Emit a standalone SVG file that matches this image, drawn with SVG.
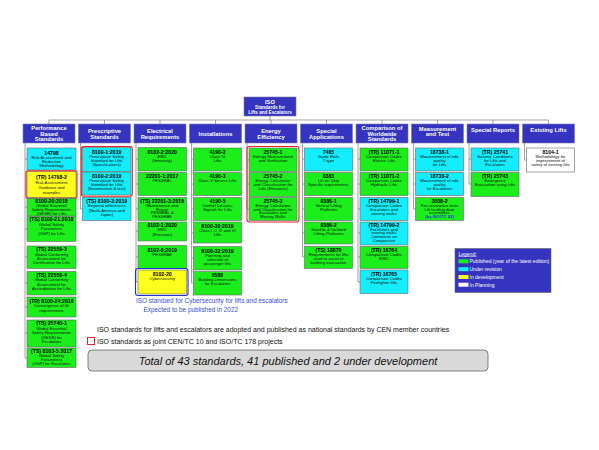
<svg xmlns="http://www.w3.org/2000/svg" width="599" height="450" viewBox="0 0 599 450">
<style>
text{font-family:"Liberation Sans",Arial,sans-serif;text-anchor:middle}
.hd{fill:#3434c0;stroke:#7a7aa8;stroke-width:0.6}
.hw{fill:#fff;font-weight:bold;font-size:5.8px}
.bx{stroke:#666;stroke-width:0.6}
.g{fill:#1cee1c}.c{fill:#14eefc}.y{fill:#ffff1e}.w{fill:#fff}
.t{font-weight:bold;font-size:5.2px;fill:#000}
.b{font-size:4.2px;fill:#111}
.red{fill:none;stroke:#e8202a;stroke-width:1.1}
.ln{stroke:#666;stroke-width:0.6;fill:none}
.lg{fill:#fff;font-size:5px;text-anchor:start}
</style>
<g id="connectors" class="ln">
<path d="M270,116V120M49,120H548.5M49,120V124M104.5,120V124M160,120V124M215.5,120V124M271,120V124M326.5,120V124M382,120V124M437.5,120V124M493,120V124M548.5,120V124"/>
<path d="M25,143V358M25,159H27M25,184H27M25,207H27M25,229H27M25,257H27M25,283H27M25,307H27M25,333H27M25,358H27"/>
<path d="M80.5,143V209M80.5,159H82.5M80.5,183H82.5M80.5,209H82.5"/>
<path d="M136,143V282M136,159H138M136,184H138M136,209H138M136,231H138M136,257H138M136,282H138"/>
<path d="M191.5,143V283M191.5,159H193.5M191.5,184H193.5M191.5,209H193.5M191.5,233H193.5M191.5,258H193.5M191.5,283H193.5"/>
<path d="M247,143V209M247,160H249M247,184H249M247,209H249"/>
<path d="M302.5,143V257M302.5,159H304.5M302.5,184H304.5M302.5,209H304.5M302.5,233H304.5M302.5,257H304.5"/>
<path d="M358,143V282M358,159H360M358,184H360M358,209H360M358,233H360M358,257H360M358,282H360"/>
<path d="M413.5,143V209M413.5,159H415.5M413.5,184H415.5M413.5,209H415.5"/>
<path d="M469,143V184M469,159H471M469,184H471"/>
<path d="M524.5,143V160M524.5,160H526.5"/>
</g>
<g id="iso">
<rect class="hd" x="244" y="97" width="52" height="19"/>
<text class="hw" x="270" y="103.5" font-size="6.5">ISO</text>
<text class="hw" x="270" y="109" style="font-size:4.6px">Standards for</text>
<text class="hw" x="270" y="114" style="font-size:4.6px">Lifts and Escalators</text>
</g>
<g id="headers">
<g id="h1"><rect class="hd" x="23" y="124" width="52" height="19"/><text class="hw" x="49" y="130.3">Performance</text><text class="hw" x="49" y="135.8">Based</text><text class="hw" x="49" y="141.3">Standards</text></g>
<g id="h2"><rect class="hd" x="78.5" y="124" width="52" height="19"/><text class="hw" x="104.5" y="133.3">Prescriptive</text><text class="hw" x="104.5" y="138.8">Standards</text></g>
<g id="h3"><rect class="hd" x="134" y="124" width="52" height="19"/><text class="hw" x="160" y="133.3">Electrical</text><text class="hw" x="160" y="138.8">Requirements</text></g>
<g id="h4"><rect class="hd" x="189.5" y="124" width="52" height="19"/><text class="hw" x="215.5" y="135.5">Installations</text></g>
<g id="h5"><rect class="hd" x="245" y="124" width="52" height="19"/><text class="hw" x="271" y="133.3">Energy</text><text class="hw" x="271" y="138.8">Efficiency</text></g>
<g id="h6"><rect class="hd" x="300.5" y="124" width="52" height="19"/><text class="hw" x="326.5" y="133.3">Special</text><text class="hw" x="326.5" y="138.8">Applications</text></g>
<g id="h7"><rect class="hd" x="356" y="124" width="52" height="19"/><text class="hw" x="382" y="130.3">Comparison of</text><text class="hw" x="382" y="135.8">Worldwide</text><text class="hw" x="382" y="141.3">Standards</text></g>
<g id="h8"><rect class="hd" x="411.5" y="124" width="52" height="19"/><text class="hw" x="437.5" y="130.8">Measurement</text><text class="hw" x="437.5" y="136.3">and Test</text></g>
<g id="h9"><rect class="hd" x="467" y="124" width="52" height="19"/><text class="hw" x="493" y="131.8">Special Reports</text></g>
<g id="h10"><rect class="hd" x="522.5" y="124" width="52" height="19"/><text class="hw" x="548.5" y="131.8">Existing Lifts</text></g>
</g>
<g id="col1">
<g id="n14798"><rect class="bx c" x="27" y="148" width="49" height="22"/><text class="t" x="51.5" y="154.5">14798</text><text class="b" x="51.5" y="158.7">Risk Assessment and</text><text class="b" x="51.5" y="163">Reduction</text><text class="b" x="51.5" y="167.3">Methodology</text></g>
<g id="n14798-2"><rect class="bx y" x="27" y="171.5" width="49" height="26"/><rect class="red" x="26" y="170.8" width="51" height="27.4" rx="2"/><text class="t" x="51.5" y="178.5">(TR) 14798-2</text><text class="b" x="51.5" y="183.5">Risk Assessment</text><text class="b" x="51.5" y="188.5">Guidance and</text><text class="b" x="51.5" y="193.5">examples</text></g>
<g id="n8100-20"><rect class="bx g" x="27" y="198.5" width="49" height="17.5"/><text class="t" x="51.5" y="203">8100-20:2018</text><text class="b" x="51.5" y="206.8">Global Essential</text><text class="b" x="51.5" y="210.7">Safety Requirements</text><text class="b" x="51.5" y="214.6">(GESR) for Lifts</text></g>
<g id="n8100-21"><rect class="bx g" x="27" y="216.5" width="49" height="25"/><text class="t" x="51.5" y="221.3">(TS) 8100-21:2018</text><text class="b" x="51.5" y="225.7">Global Safety</text><text class="b" x="51.5" y="230">Parameters</text><text class="b" x="51.5" y="234.5">(GSP) for Lifts</text></g>
<g id="n22559-3"><rect class="bx g" x="27" y="246" width="49" height="22.5"/><text class="t" x="51.5" y="251">(TS) 22559-3</text><text class="b" x="51.5" y="255.5">Global Conformity</text><text class="b" x="51.5" y="259.8">Assessment for</text><text class="b" x="51.5" y="264.3">Certification for Lifts</text></g>
<g id="n22559-4"><rect class="bx g" x="27" y="271.5" width="49" height="23.5"/><text class="t" x="51.5" y="276.8">(TS) 22559-4</text><text class="b" x="51.5" y="281.3">Global Conformity</text><text class="b" x="51.5" y="285.6">Assessment for</text><text class="b" x="51.5" y="290">Accreditation for Lifts</text></g>
<g id="n8100-24"><rect class="bx g" x="27" y="297" width="49" height="20"/><text class="t" x="51.5" y="302.6">(TR) 8100-24:2016</text><text class="b" x="51.5" y="307.3">Convergence of lift</text><text class="b" x="51.5" y="311.5">requirements</text></g>
<g id="n25740-1"><rect class="bx g" x="27" y="320" width="49" height="27"/><text class="t" x="51.5" y="325">(TS) 25740-1</text><text class="b" x="51.5" y="329.8">Global Essential</text><text class="b" x="51.5" y="334.3">Safety Requirements</text><text class="b" x="51.5" y="338.8">(GESR) for</text><text class="b" x="51.5" y="343.3">Escalators</text></g>
<g id="n8103-5"><rect class="bx g" x="27" y="348" width="49" height="19.5"/><text class="t" x="51.5" y="352.6">(TS) 8103-5:2017</text><text class="b" x="51.5" y="356.6">Global Safety</text><text class="b" x="51.5" y="360.6">Parameters</text><text class="b" x="51.5" y="364.6">(GSP) for Escalators</text></g>
</g>
<g id="col2">
<g id="n8100-1"><rect class="bx c" x="82.5" y="147.5" width="48.5" height="24"/><text class="t" x="106.7" y="154">8100-1:2019</text><text class="b" x="106.7" y="158.3">Prescriptive Safety</text><text class="b" x="106.7" y="162.3">Standard for Lifts</text><text class="b" x="106.7" y="166.3">(Specifications)</text></g>
<g id="n8100-2"><rect class="bx c" x="82.5" y="172" width="48.5" height="23"/><text class="t" x="106.7" y="177.5">8100-2:2019</text><text class="b" x="106.7" y="181.6">Prescriptive Safety</text><text class="b" x="106.7" y="185.6">Standard for Lifts</text><text class="b" x="106.7" y="190">(Examination &amp; test)</text></g>
<rect class="red" x="81.3" y="146.5" width="51" height="49.7" rx="2.5"/>
<g id="n8100-3"><rect class="bx c" x="82.5" y="197.5" width="48.5" height="23"/><text class="t" x="106.7" y="202.6">(TS) 8100-3:2019</text><text class="b" x="106.7" y="207.2">Regional differences</text><text class="b" x="106.7" y="211.5">(North America and</text><text class="b" x="106.7" y="215.6">Japan)</text></g>
</g>
<g id="col3">
<g id="n8102-2"><rect class="bx g" x="138" y="147.5" width="48.5" height="23.5"/><text class="t" x="162.2" y="154">8102-2:2020</text><text class="b" x="162.2" y="158.3">EMC</text><text class="b" x="162.2" y="162.3">(Immunity)</text></g>
<g id="n22201-1"><rect class="bx g" x="138" y="172.5" width="48.5" height="23"/><text class="t" x="162.2" y="177.5">22201-1:2017</text><text class="b" x="162.2" y="181.6">PESSRAL</text></g>
<g id="n22201-3"><rect class="bx g" x="138" y="197.5" width="48.5" height="23"/><text class="t" x="162.2" y="202.5">(TS) 22201-3:2016</text><text class="b" x="162.2" y="206.5">Maintenance and</text><text class="b" x="162.2" y="210.5">Repair</text><text class="b" x="162.2" y="214.4">PESSRAL &amp;</text><text class="b" x="162.2" y="218.3">PESSRAE</text></g>
<g id="n8102-1"><rect class="bx g" x="138" y="222" width="48.5" height="19"/><text class="t" x="162.2" y="227.3">8102-1:2020</text><text class="b" x="162.2" y="231.3">EMC</text><text class="b" x="162.2" y="235.5">(Emission)</text></g>
<g id="n8102-6"><rect class="bx g" x="138" y="245.5" width="48.5" height="23"/><text class="t" x="162.2" y="251.5">8102-6:2019</text><text class="b" x="162.2" y="255.6">PESSRAE</text></g>
<g id="n8102-20"><rect class="bx y" x="138" y="270" width="48.5" height="24"/><rect x="135.5" y="268.5" width="52.5" height="27" rx="2.5" fill="none" stroke="#2233cc" stroke-width="1.1"/><text class="t" x="162.2" y="276">8102-20</text><text class="b" x="162.2" y="280">Cybersecurity</text></g>
<text x="136" y="303" style="font-size:6.4px;fill:#3a4fd0;text-anchor:start">ISO standard for Cybersecurity for lifts and escalators</text>
<text x="143.5" y="312" style="font-size:6.4px;fill:#3a4fd0;text-anchor:start">Expected to be published  in 2022</text>
</g>
<g id="col4">
<g id="n4190-2"><rect class="bx g" x="193.5" y="148" width="48" height="23"/><text class="t" x="217.5" y="154">4190-2</text><text class="b" x="217.5" y="158.3">Class IV</text><text class="b" x="217.5" y="162.3">Lifts</text></g>
<g id="n4190-3"><rect class="bx g" x="193.5" y="172.5" width="48" height="23"/><text class="t" x="217.5" y="177.5">4190-3</text><text class="b" x="217.5" y="181.6">Class V Service Lifts</text></g>
<g id="n4190-5"><rect class="bx g" x="193.5" y="197.5" width="48" height="23"/><text class="t" x="217.5" y="203">4190-5</text><text class="b" x="217.5" y="207.3">Control Devices,</text><text class="b" x="217.5" y="211.3">Signals for Lifts</text></g>
<g id="n8100-30"><rect class="bx g" x="193.5" y="222" width="48" height="21"/><text class="t" x="217.5" y="227.6">8100-30:2019</text><text class="b" x="217.5" y="232.2">Class I, II, III and VI</text><text class="b" x="217.5" y="236.4">Lifts</text></g>
<g id="n8100-32"><rect class="bx g" x="193.5" y="246.5" width="48" height="23.5"/><text class="t" x="217.5" y="252.5">8100-32:2019</text><text class="b" x="217.5" y="256.9">Planning and</text><text class="b" x="217.5" y="260.8">selection of</text><text class="b" x="217.5" y="264.8">passenger lifts</text></g>
<g id="n9589"><rect class="bx g" x="193.5" y="271.5" width="48" height="23.5"/><text class="t" x="217.5" y="276.8">9589</text><text class="b" x="217.5" y="280.8">Building Dimensions</text><text class="b" x="217.5" y="285">for Escalators</text></g>
</g>
<g id="col5">
<g id="n25745-1"><rect class="bx g" x="249" y="148" width="48" height="23.5"/><text class="t" x="273" y="154">25745-1</text><text class="b" x="273" y="158.3">Energy Measurement</text><text class="b" x="273" y="162.3">and Verification</text></g>
<g id="n25745-2"><rect class="bx g" x="249" y="172.5" width="48" height="24"/><text class="t" x="273" y="177.6">25745-2</text><text class="b" x="273" y="181.6">Energy Calculation</text><text class="b" x="273" y="185.6">and Classification for</text><text class="b" x="273" y="189.6">Lifts (Elevators)</text></g>
<g id="n25745-3"><rect class="bx g" x="249" y="197.5" width="48" height="23"/><text class="t" x="273" y="202.5">25745-3</text><text class="b" x="273" y="206.5">Energy Calculation</text><text class="b" x="273" y="210.5">and Classification for</text><text class="b" x="273" y="214.4">Escalators and</text><text class="b" x="273" y="218.3">Moving Walks</text></g>
<rect class="red" x="247" y="146.5" width="52" height="75.5" rx="2.5"/>
</g>
<g id="col6">
<g id="n7465"><rect class="bx c" x="304.5" y="148" width="48" height="23"/><text class="t" x="328.5" y="154">7465</text><text class="b" x="328.5" y="158.3">Guide Rails</text><text class="b" x="328.5" y="162.3">T-type</text></g>
<g id="n8383"><rect class="bx g" x="304.5" y="172.5" width="48" height="23"/><text class="t" x="328.5" y="177.5">8383</text><text class="b" x="328.5" y="181.6">Lift on Ship</text><text class="b" x="328.5" y="185.6">Specific requirements</text></g>
<g id="n9386-1"><rect class="bx g" x="304.5" y="197.5" width="48" height="23"/><text class="t" x="328.5" y="202.6">9386-1</text><text class="b" x="328.5" y="206.6">Vertical Lifting</text><text class="b" x="328.5" y="210.6">Platforms</text></g>
<g id="n9386-2"><rect class="bx g" x="304.5" y="222" width="48" height="22"/><text class="t" x="328.5" y="227">9386-2</text><text class="b" x="328.5" y="231">Stairlifts &amp; Inclined</text><text class="b" x="328.5" y="235">Lifting Platforms</text></g>
<g id="n18870"><rect class="bx g" x="304.5" y="246.5" width="48" height="22"/><text class="t" x="328.5" y="251.6">(TS) 18870</text><text class="b" x="328.5" y="255.8">Requirements for lifts</text><text class="b" x="328.5" y="259.8">used to assist in</text><text class="b" x="328.5" y="263.8">building evacuation</text></g>
</g>
<g id="col7">
<g id="n11071-1"><rect class="bx g" x="360" y="148" width="48" height="23"/><text class="t" x="384" y="154">(TR) 11071-1</text><text class="b" x="384" y="158.3">Comparison Codes</text><text class="b" x="384" y="162.3">Electric Lifts</text></g>
<g id="n11071-2"><rect class="bx g" x="360" y="172.5" width="48" height="23"/><text class="t" x="384" y="177.5">(TR) 11071-2</text><text class="b" x="384" y="181.6">Comparison Codes</text><text class="b" x="384" y="185.6">Hydraulic Lifts</text></g>
<g id="n14799-1"><rect class="bx c" x="360" y="197.5" width="48" height="23"/><text class="t" x="384" y="202.5">(TR) 14799-1</text><text class="b" x="384" y="206.6">Comparison Codes</text><text class="b" x="384" y="210.6">Escalators and</text><text class="b" x="384" y="214.6">moving walks</text></g>
<g id="n14799-2"><rect class="bx c" x="360" y="222" width="48" height="23"/><text class="t" x="384" y="226.6">(TR) 14799-2</text><text class="b" x="384" y="230.6">Escalators and</text><text class="b" x="384" y="234.4">moving walks</text><text class="b" x="384" y="238.2">Comments on</text><text class="b" x="384" y="242">Comparison</text></g>
<g id="n16764"><rect class="bx g" x="360" y="246.5" width="48" height="22"/><text class="t" x="384" y="252">(TR) 16764</text><text class="b" x="384" y="256.3">Comparison Codes</text><text class="b" x="384" y="260.3">EMC</text></g>
<g id="n16765"><rect class="bx c" x="360" y="270" width="48" height="23.5"/><text class="t" x="384" y="275.5">(TR) 16765</text><text class="b" x="384" y="279.8">Comparison Codes</text><text class="b" x="384" y="283.8">Firefighter lifts</text></g>
</g>
<g id="col8">
<g id="n18738-1"><rect class="bx c" x="415.5" y="148" width="48" height="23"/><text class="t" x="439.5" y="154">18738-1</text><text class="b" x="439.5" y="158.3">Measurement of ride</text><text class="b" x="439.5" y="162.3">quality</text><text class="b" x="439.5" y="166.3">for Lifts</text></g>
<g id="n18738-2"><rect class="bx c" x="415.5" y="172.5" width="48" height="23"/><text class="t" x="439.5" y="177.5">18738-2</text><text class="b" x="439.5" y="182">Measurement of ride</text><text class="b" x="439.5" y="186">quality</text><text class="b" x="439.5" y="190">for Escalators</text></g>
<g id="n3008-2"><rect class="bx g" x="415.5" y="197.5" width="48" height="23"/><text class="t" x="439.5" y="202.5">3008-2</text><text class="b" x="439.5" y="206.5">Fire-resistance tests</text><text class="b" x="439.5" y="210.5">Lift landing door</text><text class="b" x="439.5" y="214.4">assemblies</text><text class="b" x="439.5" y="218.4" style="fill:#2233cc;font-weight:bold">(by ISO/TC 92)</text></g>
</g>
<g id="col9">
<g id="n25741"><rect class="bx c" x="471" y="148" width="48" height="23"/><text class="t" x="495" y="154">(TR) 25741</text><text class="b" x="495" y="158.3">Seismic Conditions</text><text class="b" x="495" y="162.3">for Lifts and</text><text class="b" x="495" y="166.3">Escalators</text></g>
<g id="n25743"><rect class="bx g" x="471" y="172.5" width="48" height="24"/><text class="t" x="495" y="177.5">(TR) 25743</text><text class="b" x="495" y="181.6">Emergency</text><text class="b" x="495" y="185.6">Evacuation using Lifts</text></g>
</g>
<g id="col10">
<g id="n8104-1"><rect class="bx w" x="526.5" y="148" width="48" height="24"/><text class="t" x="550.5" y="154">8104-1</text><text class="b" x="550.5" y="158.3">Methodology for</text><text class="b" x="550.5" y="162.3">improvement of</text><text class="b" x="550.5" y="166.3">safety of existing lifts</text></g>
</g>
<g id="legend">
<rect x="455" y="248.5" width="96" height="44" fill="#3434c0" stroke="#666" stroke-width="0.6"/>
<text class="lg" x="458.5" y="255.5" text-decoration="underline">Legend:</text>
<rect x="458.5" y="259.3" width="10" height="4" fill="#1cee1c"/><text class="lg" x="469.5" y="263.3">Published (year of the latest edition)</text>
<rect x="458.5" y="267.2" width="10" height="4" fill="#14eefc"/><text class="lg" x="469.5" y="271.2">Under revision</text>
<rect x="458.5" y="275" width="10" height="4" fill="#ffff1e"/><text class="lg" x="469.5" y="279">In development</text>
<rect x="458.5" y="282.7" width="10" height="4" fill="#fff"/><text class="lg" x="469.5" y="286.7">In Planning</text>
</g>
<g id="notes">
<text x="97" y="332" style="font-size:7px;fill:#111;text-anchor:start">ISO standards for lifts and escalators are adopted and published as national standards by CEN member countries</text>
<rect x="87.5" y="337.5" width="7" height="7" fill="#fff" stroke="#e8202a" stroke-width="1"/>
<text x="97" y="344" style="font-size:7px;fill:#111;text-anchor:start">ISO standards as joint CEN/TC 10 and ISO/TC 178 projects</text>
<rect x="88" y="350" width="400" height="21" rx="4" fill="#d9d9d9" stroke="#555" stroke-width="0.7"/>
<text x="288" y="364.5" style="font-size:11px;font-style:italic;fill:#111">Total of 43 standards, 41 published and 2 under development</text>
</g>
</svg>
